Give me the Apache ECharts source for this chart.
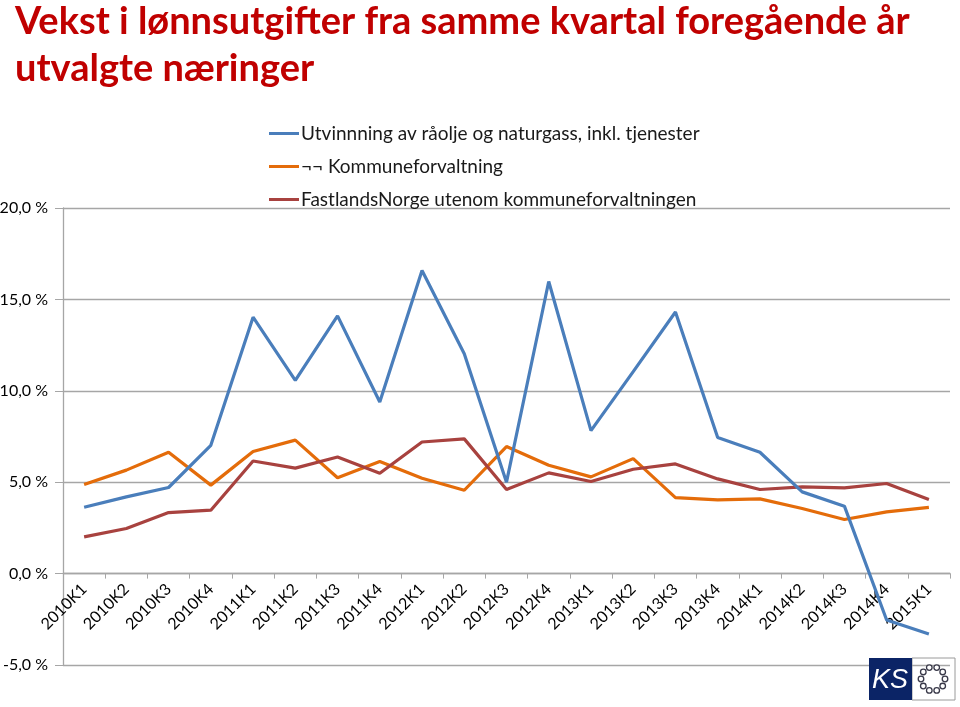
<!DOCTYPE html>
<html>
<head>
<meta charset="utf-8">
<script src="https://cdn.jsdelivr.net/npm/echarts@6/dist/echarts.min.js"></script>
<style>html,body{margin:0;padding:0;background:#fff}#c{width:960px;height:707px}</style>
</head>
<body>
<div id="c"></div>
<script>
const categories = ['2010K1','2010K2','2010K3','2010K4','2011K1','2011K2','2011K3','2011K4','2012K1','2012K2','2012K3','2012K4','2013K1','2013K2','2013K3','2013K4','2014K1','2014K2','2014K3','2014K4','2015K1'];
const seriesNames = ['Utvinnning av råolje og naturgass, inkl. tjenester', '¬¬ Kommuneforvaltning', 'FastlandsNorge utenom kommuneforvaltningen'];
const utvinning = [3.63, 4.2, 4.71, 7.02, 14.03, 10.57, 14.1, 9.39, 16.58, 12.03, 5.0, 15.98, 7.82, 11.05, 14.31, 7.44, 6.64, 4.47, 3.69, -2.54, -3.31];
const kommune = [4.87, 5.66, 6.64, 4.84, 6.68, 7.3, 5.24, 6.13, 5.22, 4.56, 6.95, 5.93, 5.29, 6.29, 4.16, 4.03, 4.09, 3.56, 2.96, 3.38, 3.62];
const fastland = [2.01, 2.47, 3.34, 3.47, 6.16, 5.77, 6.38, 5.49, 7.2, 7.37, 4.6, 5.51, 5.04, 5.71, 6.0, 5.18, 4.6, 4.74, 4.69, 4.93, 4.05];
const yTicks = [-5, 0, 5, 10, 15, 20];
const titleText = 'Vekst i lønnsutgifter fra samme kvartal foregående år\nutvalgte næringer';

const colors = ['#4A7EBB', '#E46C0A', '#A8423F'];
const font = 'Lato, "Open Sans", sans-serif';

const GRID_TOP = 208, GRID_BOTTOM = 42, H = 707;
const yMin = yTicks[0], yMax = yTicks[yTicks.length - 1];
const gridH = H - GRID_TOP - GRID_BOTTOM;
// place the category axis at the zero line (Excel style crossing)
const xAxisOffset = -gridH * (0 - yMin) / (yMax - yMin);

const chart = echarts.init(document.getElementById('c'));

const ring = [];
for (let i = 0; i < 10; i++) {
  const a = i / 10 * Math.PI * 2;
  ring.push({
    type: 'circle',
    shape: { cx: 933 + 12 * Math.cos(a), cy: 679 + 12 * Math.sin(a), r: 2.8 },
    style: { fill: '#fff', stroke: '#3a3a4a', lineWidth: 1.3 },
    z: 20
  });
}

chart.setOption({
  animation: false,
  color: colors,
  title: {
    text: titleText,
    left: 10, top: -7,
    textStyle: { color: '#C00000', fontFamily: font, fontWeight: 'bold', fontSize: 38, lineHeight: 47 }
  },
  legend: {
    orient: 'vertical',
    left: 264, top: 119,
    itemWidth: 30, itemHeight: 3, itemGap: 14,
    icon: 'rect',
    textStyle: { fontFamily: font, fontSize: 19, color: '#1a1a1a', padding: [0,0,0,-3] },
    data: seriesNames
  },
  grid: { left: 63, right: 10, top: GRID_TOP, bottom: GRID_BOTTOM, containLabel: false, outerBoundsMode: 'none' },
  xAxis: {
    type: 'category',
    data: categories,
    boundaryGap: true,
    position: 'bottom',
    offset: xAxisOffset,
    axisLine: { show: true, onZero: false, lineStyle: { color: '#A6A6A6', width: 1.3 } },
    axisTick: { show: true, interval: 0, length: 5, lineStyle: { color: '#A6A6A6' } },
    axisLabel: { interval: 0, rotate: 45, margin: 13, fontFamily: font, fontSize: 16, color: '#000' }
  },
  yAxis: {
    type: 'value',
    min: yMin, max: yMax, interval: 5,
    axisLine: { show: true, lineStyle: { color: '#A6A6A6', width: 1.3 } },
    axisTick: { show: true, length: 8, lineStyle: { color: '#A6A6A6' } },
    splitLine: { show: true, lineStyle: { color: '#A6A6A6', width: 1.3 } },
    axisLabel: {
      margin: 15, fontFamily: font, fontSize: 16, color: '#000',
      formatter: v => v.toFixed(1).replace('.', ',') + ' %'
    }
  },
  series: [
    { name: seriesNames[0], type: 'line', data: utvinning, symbol: 'none', lineStyle: { width: 3.2 }, z: 3 },
    { name: seriesNames[1], type: 'line', data: kommune, symbol: 'none', lineStyle: { width: 3.2 }, z: 2 },
    { name: seriesNames[2], type: 'line', data: fastland, symbol: 'none', lineStyle: { width: 3.2 }, z: 2 }
  ],
  graphic: [
    { type: 'rect', shape: { x: 912, y: 658, width: 43, height: 42 }, style: { fill: 'none', stroke: '#9a9a9a', lineWidth: 1 }, z: 20 },
    { type: 'rect', shape: { x: 869, y: 658, width: 43, height: 42 }, style: { fill: '#0B2466' }, z: 20 },
    { type: 'text', x: 890, y: 680, style: { text: 'KS', fill: '#fff', font: 'italic 27px "Liberation Sans", sans-serif', align: 'center', verticalAlign: 'middle' }, z: 21 }
  ].concat(ring)
});
</script>
</body>
</html>
